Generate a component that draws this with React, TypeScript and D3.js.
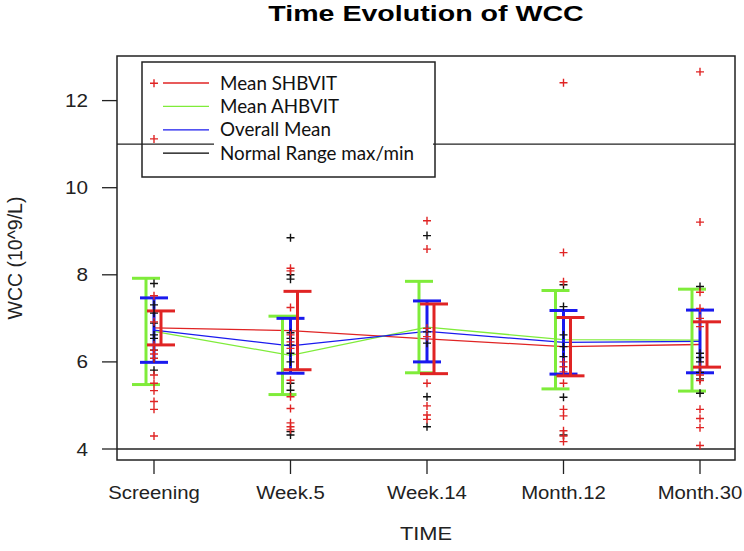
import React from "react";
import * as d3 from "d3";

// categories and axis ticks
const times = ["Screening", "Week.5", "Week.14", "Month.12", "Month.30"];
const yTicks = [4, 6, 8, 10, 12];
const normalRange = [4, 11];

// group means and SDs (error bars are mean +/- sd)
const meanSHBVIT = [6.78, 6.72, 6.53, 6.35, 6.4];
const sdSHBVIT = [0.39, 0.9, 0.8, 0.67, 0.52];
const meanAHBVIT = [6.7, 6.15, 6.8, 6.51, 6.5];
const sdAHBVIT = [1.22, 0.9, 1.05, 1.13, 1.17];
const meanOverall = [6.73, 6.37, 6.7, 6.45, 6.47];
const sdOverall = [0.74, 0.63, 0.7, 0.73, 0.72];

// individual patients
const ptsSHBVIT = [
  [12.4, 11.12, 7.52, 6.92, 6.39, 6.27, 6.18, 6.08, 5.7, 5.51, 5.34, 5.09, 4.91, 4.3],
  [8.15, 8.09, 7.25, 6.62, 6.46, 6.31, 5.58, 5.2, 4.93, 4.6, 4.51, 4.44],
  [9.24, 8.59, 6.77, 6.58, 5.51, 4.99, 4.78, 4.68],
  [12.41, 8.51, 7.84, 6.0, 5.89, 5.77, 5.51, 4.91, 4.76, 4.42, 4.3, 4.17],
  [12.66, 9.21, 7.6, 7.23, 7.0, 6.81, 5.89, 5.7, 5.57, 4.91, 4.7, 4.49, 4.08],
];
const ptsAHBVIT = [
  [7.8, 7.31, 7.12, 6.89, 6.62, 6.54, 6.27, 6.08, 5.81],
  [8.85, 8.0, 7.9, 6.67, 6.54, 6.39, 6.2, 6.0, 5.51, 5.35, 4.4, 4.32],
  [8.9, 6.69, 6.43, 5.2, 4.51],
  [7.77, 7.27, 6.62, 6.35, 6.12, 5.19, 4.32],
  [7.73, 6.2, 6.1, 6.0, 5.76, 5.61, 5.28],
];

const RED = "#e02424";
const GREEN = "#7fec3a";
const BLUE = "#1a1aee";
const FONT = "'Liberation Sans', Arial, sans-serif";

export default function App() {
  const W = 744, H = 551;
  const box = { left: 117, right: 735, top: 56, bottom: 460 };

  const x = d3.scalePoint<string>().domain(times).range([154, 700]);
  const y = d3.scaleLinear().domain([4, 12]).range([449, 100.6]);

  const line = d3.line<number>()
    .x((_, i) => x(times[i])!)
    .y(d => y(d));

  const series = [
    { mean: meanAHBVIT, sd: sdAHBVIT, color: GREEN, dx: -8 },
    { mean: meanOverall, sd: sdOverall, color: BLUE, dx: 0 },
    { mean: meanSHBVIT, sd: sdSHBVIT, color: RED, dx: 7 },
  ];

  const plus = (cx: number, cy: number, color: string, key: string) => (
    <path key={key} d={`M${cx - 4},${cy}H${cx + 4}M${cx},${cy - 4}V${cy + 4}`}
      stroke={color} strokeWidth={1.4} />
  );

  const legendItems = [
    { label: "Mean SHBVIT", color: RED },
    { label: "Mean AHBVIT", color: GREEN },
    { label: "Overall Mean", color: BLUE },
    { label: "Normal Range max/min", color: "#000" },
  ];

  return (
    <svg width={W} height={H} style={{ position: "absolute", left: 0, top: 0, background: "#fff" }}>
      {/* title */}
      <text transform={`translate(${(box.left + box.right) / 2},21) scale(1.3,1)`}
        textAnchor="middle" fontFamily={FONT} fontWeight="bold" fontSize={22}>
        Time Evolution of WCC
      </text>

      {/* normal range */}
      {normalRange.map(v => (
        <line key={v} x1={box.left} x2={box.right} y1={y(v)} y2={y(v)} stroke="#222" strokeWidth={1.3} />
      ))}

      {/* mean lines */}
      <path d={line(meanSHBVIT)!} fill="none" stroke={RED} strokeWidth={1.3} />
      <path d={line(meanAHBVIT)!} fill="none" stroke={GREEN} strokeWidth={1.3} />
      <path d={line(meanOverall)!} fill="none" stroke={BLUE} strokeWidth={1.3} />

      {/* error bars */}
      {series.map((s, si) => (
        <g key={si} stroke={s.color} strokeWidth={3}>
          {times.map((t, i) => {
            const cx = x(t)! + s.dx;
            const hi = y(s.mean[i] + s.sd[i]);
            const lo = y(s.mean[i] - s.sd[i]);
            return (
              <g key={t}>
                <line x1={cx} x2={cx} y1={hi} y2={lo} />
                <line x1={cx - 14} x2={cx + 14} y1={hi} y2={hi} />
                <line x1={cx - 14} x2={cx + 14} y1={lo} y2={lo} />
              </g>
            );
          })}
        </g>
      ))}

      {/* patient points */}
      {times.map((t, i) => (
        <g key={t}>
          {ptsAHBVIT[i].map((v, j) => plus(x(t)!, y(v), "#111", `a${j}`))}
          {ptsSHBVIT[i].map((v, j) => plus(x(t)!, y(v), RED, `s${j}`))}
        </g>
      ))}

      {/* frame */}
      <rect x={box.left} y={box.top} width={box.right - box.left} height={box.bottom - box.top}
        fill="none" stroke="#222" strokeWidth={1.5} />

      {/* y axis */}
      {yTicks.map(v => (
        <g key={v}>
          <line x1={box.left - 15} x2={box.left} y1={y(v)} y2={y(v)} stroke="#222" strokeWidth={1.3} />
          <text transform={`translate(88,${y(v) + 6.5}) scale(1.15,1)`} textAnchor="end"
            fontFamily={FONT} fontSize={18} fill="#222">{v}</text>
        </g>
      ))}
      <text transform={`translate(22,${(box.top + box.bottom) / 2}) rotate(-90)`} textAnchor="middle"
        fontFamily={FONT} fontSize={19.5} fill="#222">WCC (10^9/L)</text>

      {/* x axis */}
      {times.map(t => (
        <g key={t}>
          <line x1={x(t)!} x2={x(t)!} y1={box.bottom} y2={box.bottom + 14} stroke="#222" strokeWidth={1.3} />
          <text transform={`translate(${x(t)!},499) scale(1.13,1)`} textAnchor="middle"
            fontFamily={FONT} fontSize={18} fill="#222">{t}</text>
        </g>
      ))}
      <text transform={`translate(${(box.left + box.right) / 2},540) scale(1.15,1)`} textAnchor="middle"
        fontFamily={FONT} fontSize={19} fill="#222">TIME</text>

      {/* legend */}
      <rect x={214} y={64} width={219} height={111} fill="#fff" />
      <rect x={142} y={62} width={293} height={115} fill="none" stroke="#222" strokeWidth={1.5} />
      {legendItems.map((d, i) => (
        <g key={d.label} transform={`translate(0,${83 + i * 23.4})`}>
          <line x1={163} x2={209} y1={0} y2={0} stroke={d.color} strokeWidth={1.3} />
          <text x={220} y={6.5} fontFamily="Lato, 'Open Sans', sans-serif" fontSize={18.8} fill="#111">
            {d.label}
          </text>
        </g>
      ))}
    </svg>
  );
}
